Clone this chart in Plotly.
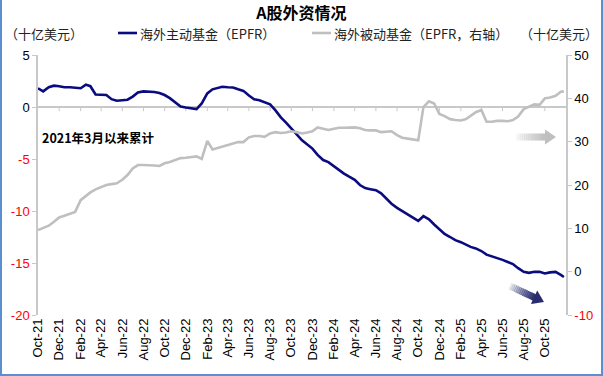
import plotly.graph_objects as go

# ---------------- data ----------------
start_year, start_month = 2021, 10
dates = []
for i in range(50):
    y = start_year + (start_month - 1 + i) // 12
    m = (start_month - 1 + i) % 12 + 1
    dates.append(f"{y}-{m:02d}-01")
    dates.append(f"{y}-{m:02d}-16")
dates.append("2025-11-25")

active_epfr = [
    1.8, 1.5, 1.9, 2.05, 2.0, 1.9, 1.9, 1.85, 1.8, 2.15,
    2.0, 1.2, 1.2, 1.15, 0.75, 0.6, 0.65, 0.7, 1.0, 1.4,
    1.5, 1.5, 1.45, 1.35, 1.15, 0.85, 0.45, 0.05, -0.05, -0.1,
    -0.2, 0.35, 1.3, 1.7, 1.85, 1.95, 1.9, 1.88, 1.7, 1.55,
    1.1, 0.75, 0.65, 0.45, 0.25, -0.3, -1.0, -1.5, -2.0, -2.6,
    -3.2, -3.6, -4.0, -4.6, -5.1, -5.3, -5.7, -6.1, -6.4, -6.7,
    -7.0, -7.5, -7.8, -7.9, -8.0, -8.3, -8.8, -9.3, -9.7, -10.0,
    -10.35, -10.6, -10.95, -10.5, -10.8, -11.3, -11.8, -12.2, -12.5, -12.8,
    -13.0, -13.25, -13.45, -13.6, -13.85, -14.2, -14.35, -14.5, -14.7, -14.9,
    -15.1, -15.5, -15.85, -15.95, -15.85, -15.85, -16.0, -15.9, -15.85, -16.15,
    -16.35,
]

passive_epfr = [
    9.6, 10.0, 10.6, 11.5, 12.5, 12.9, 13.4, 13.8, 16.5, 17.5,
    18.3, 19.0, 19.5, 20.0, 20.2, 20.4, 21.2, 22.3, 23.8, 24.6,
    24.6, 24.6, 24.5, 24.4, 25.0, 25.3, 25.7, 26.2, 26.3, 26.4,
    26.6, 26.0, 30.2, 28.2, 28.5, 28.8, 29.1, 29.4, 29.9, 29.9,
    31.0, 31.3, 31.3, 31.1, 31.9, 32.2, 32.0, 32.1, 32.4, 32.2,
    31.9, 32.1, 32.4, 33.3, 32.9, 32.7, 33.0, 33.2, 33.2, 33.3,
    33.3, 33.1, 32.7, 32.6, 32.6, 32.2, 32.3, 32.4, 31.5, 30.9,
    30.7, 30.5, 30.3, 38.0, 39.3, 38.8, 36.4, 35.9, 35.2, 35.0,
    34.9, 35.2, 35.9, 36.8, 37.3, 34.6, 34.6, 34.8, 34.8, 34.7,
    35.0, 35.8, 37.5, 38.1, 38.6, 38.5, 40.0, 40.2, 40.6, 41.5,
    41.6,
]

left_ticks = [5, 0, -5, -10, -15, -20]
right_ticks = [50, 40, 30, 20, 10, 0, -10]
x_tick_dates = []
for i in range(0, 49, 2):
    y = start_year + (start_month - 1 + i) // 12
    m = (start_month - 1 + i) % 12 + 1
    x_tick_dates.append(f"{y}-{m:02d}-01")

title_text = "A股外资情况"
name_active = "海外主动基金（EPFR）"
name_passive = "海外被动基金（EPFR，右轴）"
unit_text = "（十亿美元）"
note_text = "2021年3月以来累计"

# ---------------- styling ----------------
W, H = 603, 376
L, R, T, B = 38, 566, 55, 315
NAVY = "#0b0b80"
GRAY = "#bfbfbf"
AXIS = "#c8c8c8"
CJK = "Noto Sans CJK SC"
LAT = "Liberation Sans"


def px(x):
    return (x - L) / (R - L)


def py(y):
    return (B - y) / (B - T)


def colored(v):
    if v < 0:
        return f'<span style="color:#ff0000">{v}</span>'
    return f'<span style="color:#000000">{v}</span>'


fig = go.Figure()
fig.add_trace(go.Scatter(x=dates, y=passive_epfr, yaxis="y2", mode="lines",
                         line=dict(color=GRAY, width=2.6), name=name_passive,
                         showlegend=False))
fig.add_trace(go.Scatter(x=dates, y=active_epfr, yaxis="y", mode="lines",
                         line=dict(color=NAVY, width=2.6), name=name_active,
                         showlegend=False))

shapes = []
# small downward ticks on zero line
for d in x_tick_dates[1:]:
    shapes.append(dict(type="line", xref="x", yref="y", x0=d, x1=d, y0=0, y1=-0.4,
                       line=dict(color=AXIS, width=1), layer="below"))


def arrow(x0, y0, x1, y1, sw, hw, hl, rgb, n=14):
    import math
    dx, dy = x1 - x0, y1 - y0
    ln = math.hypot(dx, dy)
    ux, uy = dx / ln, dy / ln
    nx, ny = -uy, ux
    shaft_len = ln - hl
    out = []
    for k in range(n):
        a = shaft_len * k / n
        b = shaft_len * (k + 1) / n + 0.6
        op = 0.08 + 0.92 * (k + 0.5) / n
        pts = [
            (x0 + ux * a + nx * sw / 2, y0 + uy * a + ny * sw / 2),
            (x0 + ux * b + nx * sw / 2, y0 + uy * b + ny * sw / 2),
            (x0 + ux * b - nx * sw / 2, y0 + uy * b - ny * sw / 2),
            (x0 + ux * a - nx * sw / 2, y0 + uy * a - ny * sw / 2),
        ]
        path = "M " + " L ".join(f"{px(p[0]):.5f},{py(p[1]):.5f}" for p in pts) + " Z"
        out.append(dict(type="path", xref="paper", yref="paper", path=path,
                        fillcolor=f"rgba({rgb},{op:.3f})", line=dict(width=0)))
    bx, by = x0 + ux * shaft_len, y0 + uy * shaft_len
    pts = [
        (bx + nx * hw / 2, by + ny * hw / 2),
        (x1, y1),
        (bx - nx * hw / 2, by - ny * hw / 2),
    ]
    path = "M " + " L ".join(f"{px(p[0]):.5f},{py(p[1]):.5f}" for p in pts) + " Z"
    out.append(dict(type="path", xref="paper", yref="paper", path=path,
                    fillcolor=f"rgba({rgb},1)", line=dict(width=0)))
    return out


shapes += arrow(516, 137, 556, 137, 7, 15, 11, "191,191,191")
shapes += arrow(510, 286, 544, 302, 7, 15, 11, "40,44,110")

# legend line samples
shapes.append(dict(type="line", xref="paper", yref="paper", x0=px(118), x1=px(137),
                   y0=py(33), y1=py(33), line=dict(color=NAVY, width=2.6)))
shapes.append(dict(type="line", xref="paper", yref="paper", x0=px(312), x1=px(331),
                   y0=py(33), y1=py(33), line=dict(color=GRAY, width=2.6)))

# frame border (left, bottom, right)
shapes.append(dict(type="path", xref="paper", yref="paper",
                   path=f"M {px(1):.5f},{py(0):.5f} L {px(1):.5f},{py(375):.5f} L {px(602):.5f},{py(375):.5f} L {px(602):.5f},{py(0):.5f}",
                   line=dict(color="#5b8fd0", width=2)))

annotations = [
    dict(text=name_active, xref="paper", yref="paper", x=px(138), y=py(33),
         xanchor="left", yanchor="middle", showarrow=False,
         font=dict(family=CJK, size=13, color="#222222")),
    dict(text=name_passive, xref="paper", yref="paper", x=px(332), y=py(33),
         xanchor="left", yanchor="middle", showarrow=False,
         font=dict(family=CJK, size=13, color="#222222")),
    dict(text=unit_text, xref="paper", yref="paper", x=px(3), y=py(33),
         xanchor="left", yanchor="middle", showarrow=False,
         font=dict(family=CJK, size=13, color="#222222")),
    dict(text=unit_text, xref="paper", yref="paper", x=px(600), y=py(33),
         xanchor="right", yanchor="middle", showarrow=False,
         font=dict(family=CJK, size=13, color="#222222")),
    dict(text=f"<b>{note_text}</b>", xref="paper", yref="paper", x=px(40), y=py(137),
         xanchor="left", yanchor="middle", showarrow=False,
         font=dict(family=CJK, size=12.5, color="#000000")),
]

fig.update_layout(
    width=W, height=H,
    margin=dict(l=L, r=W - R, t=T, b=H - B, autoexpand=False),
    paper_bgcolor="white", plot_bgcolor="white",
    title=dict(text=f"<b>{title_text}</b>", x=0.5, xanchor="center",
               y=1 - 13 / H, yanchor="middle",
               font=dict(family=CJK, size=16, color="#000000")),
    showlegend=False,
    shapes=shapes,
    annotations=annotations,
    xaxis=dict(type="date", range=["2021-10-01", "2025-12-01"],
               tickvals=x_tick_dates, tickformat="%b-%y", tickangle=-90,
               showgrid=False, showline=False, zeroline=False, ticks="",
               automargin=False,
               tickfont=dict(family=LAT, size=13, color="#000000")),
    yaxis=dict(range=[-20, 5], tickvals=left_ticks,
               ticktext=[colored(v) for v in left_ticks],
               showgrid=False, zeroline=True, zerolinecolor=AXIS, zerolinewidth=1.5,
               showline=True, linecolor=AXIS, linewidth=1.5,
               ticks="outside", ticklen=4, tickcolor=AXIS, automargin=False,
               tickfont=dict(family=LAT, size=13)),
    yaxis2=dict(range=[-10, 50], tickvals=right_ticks,
                ticktext=[colored(v) for v in right_ticks],
                overlaying="y", side="right",
                showgrid=False, zeroline=False, automargin=False,
                showline=True, linecolor=AXIS, linewidth=1.5,
                ticks="outside", ticklen=4, tickcolor=AXIS,
                tickfont=dict(family=LAT, size=13)),
)

fig.write_html("out.html", config={"displayModeBar": False},
               post_script="document.body.style.margin='0';document.body.style.padding='0';")
